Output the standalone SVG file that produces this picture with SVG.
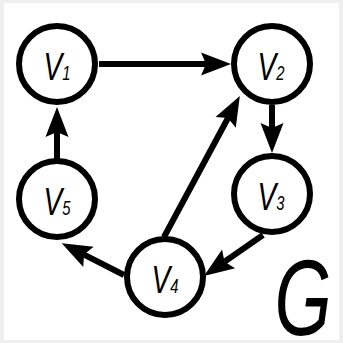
<svg xmlns="http://www.w3.org/2000/svg" width="343" height="343" viewBox="0 0 343 343">
<style>
.node circle{fill:#fff;stroke:#000;stroke-width:6}
.lbl{font-family:"Liberation Sans",Arial,sans-serif;font-style:italic;font-size:38px;fill:#000;text-anchor:middle}
.sub{font-size:20px}
.edge{stroke:#000;stroke-width:6;fill:none;marker-end:url(#ah)}
</style>
<defs>
<marker id="ah" markerUnits="userSpaceOnUse" markerWidth="32" markerHeight="26" viewBox="0 -13 32 26" refX="5" refY="0" orient="auto">
<path d="M0,-11.5 L30,0 L0,11.5 L5,0 Z" fill="#000"/>
</marker>
</defs>
<rect x="0" y="0" width="343" height="343" fill="#efefef"/>
<rect x="4" y="3" width="335" height="337" fill="#fff"/>
<g id="edges">
<line class="edge" x1="99" y1="64" x2="206" y2="64"/>
<line class="edge" x1="272" y1="105" x2="272" y2="128"/>
<line class="edge" x1="263" y1="235" x2="224.5" y2="261.7"/>
<line class="edge" x1="164" y1="237" x2="228" y2="118"/>
<line class="edge" x1="124" y1="275" x2="84" y2="254.6"/>
<line class="edge" x1="57" y1="160" x2="57" y2="132"/>
</g>
<g id="v1" class="node"><circle cx="57" cy="64" r="38"/><text class="lbl" transform="translate(57,80) scale(0.74,1)">V<tspan class="sub">1</tspan></text></g>
<g id="v2" class="node"><circle cx="272" cy="64" r="38"/><text class="lbl" transform="translate(271,80) scale(0.74,1)">V<tspan class="sub">2</tspan></text></g>
<g id="v3" class="node"><circle cx="272" cy="194" r="38"/><text class="lbl" transform="translate(271,210) scale(0.74,1)">V<tspan class="sub">3</tspan></text></g>
<g id="v4" class="node"><circle cx="165" cy="277" r="38"/><text class="lbl" transform="translate(165,293) scale(0.74,1)">V<tspan class="sub">4</tspan></text></g>
<g id="v5" class="node"><circle cx="57" cy="199" r="38"/><text class="lbl" transform="translate(57,215) scale(0.74,1)">V<tspan class="sub">5</tspan></text></g>
<text id="g" transform="translate(303,335) scale(0.68,1)" style="font-family:'Liberation Sans',Arial,sans-serif;font-style:italic;font-size:108px;text-anchor:middle">G</text>
</svg>
